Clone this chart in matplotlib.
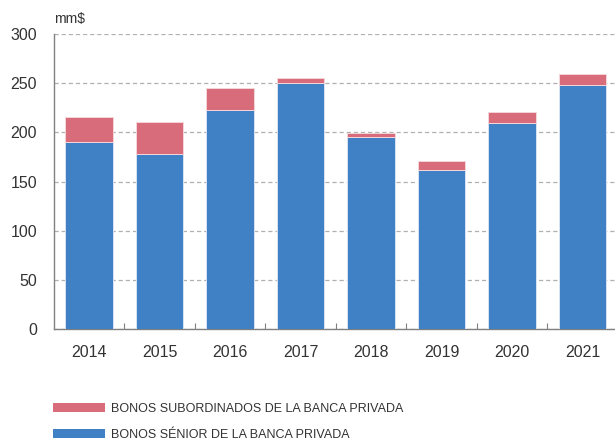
import numpy as np
import matplotlib.pyplot as plt
from matplotlib.patches import Patch
from matplotlib.ticker import FixedLocator

plt.rcParams['font.family'] = ['Liberation Sans', 'DejaVu Sans']

# Data (mm$)
years = ['2014', '2015', '2016', '2017', '2018', '2019', '2020', '2021']
senior = [190.6, 178.5, 223.2, 250.0, 195.7, 162.2, 210.0, 248.0]
subordinados = [24.8, 31.9, 21.7, 5.0, 3.5, 8.8, 10.8, 11.8]

blue = '#4080c4'
red = '#d96c7a'
grey_txt = '#333333'

fig = plt.figure(figsize=(6.15, 4.41), dpi=100)
ax = fig.add_axes([0.0873, 0.2533, 0.9171, 0.6696])

x = np.arange(len(years))
width = 0.67
ax.bar(x, senior, width, color=blue, edgecolor='#d6e4f4', linewidth=0.7, zorder=3)
ax.bar(x, subordinados, width, bottom=senior, color=red, edgecolor='#f4d6da',
       linewidth=0.7, zorder=3)

ax.set_xlim(-0.5, len(years) - 0.5)
ax.set_ylim(0, 300)
ax.set_yticks([0, 50, 100, 150, 200, 250, 300])
ax.set_xticks(x)
ax.set_xticklabels(years)
ax.xaxis.set_minor_locator(FixedLocator(x[:-1] + 0.5))

ax.yaxis.grid(True, color='#b0b0b0', linestyle=(0, (3.4, 2.3)), linewidth=0.9, zorder=0)
ax.set_axisbelow(True)

for s in ['top', 'right']:
    ax.spines[s].set_visible(False)
for s in ['left', 'bottom']:
    ax.spines[s].set_color('#808080')
    ax.spines[s].set_linewidth(1.0)

ax.tick_params(axis='x', which='major', length=0, pad=11, labelsize=11.5, labelcolor=grey_txt)
ax.tick_params(axis='x', which='minor', direction='in', length=4, width=0.8, color='#808080')
ax.tick_params(axis='y', length=0, pad=12, labelsize=11.5, labelcolor=grey_txt)

fig.text(0.0873, 0.947, 'mm$', fontsize=10, color=grey_txt, ha='left', va='baseline')

handles = [Patch(facecolor=red), Patch(facecolor=blue)]
labels = ['BONOS SUBORDINADOS DE LA BANCA PRIVADA', 'BONOS SÉNIOR DE LA BANCA PRIVADA']
fig.legend(handles, labels, loc='upper left', bbox_to_anchor=(0.0866, 0.086),
           frameon=False, fontsize=9, handlelength=4.1, handleheight=0.75,
           handletextpad=0.5, labelspacing=1.1, borderaxespad=0, borderpad=0,
           labelcolor=grey_txt)

fig.savefig('out.png', dpi=100)
